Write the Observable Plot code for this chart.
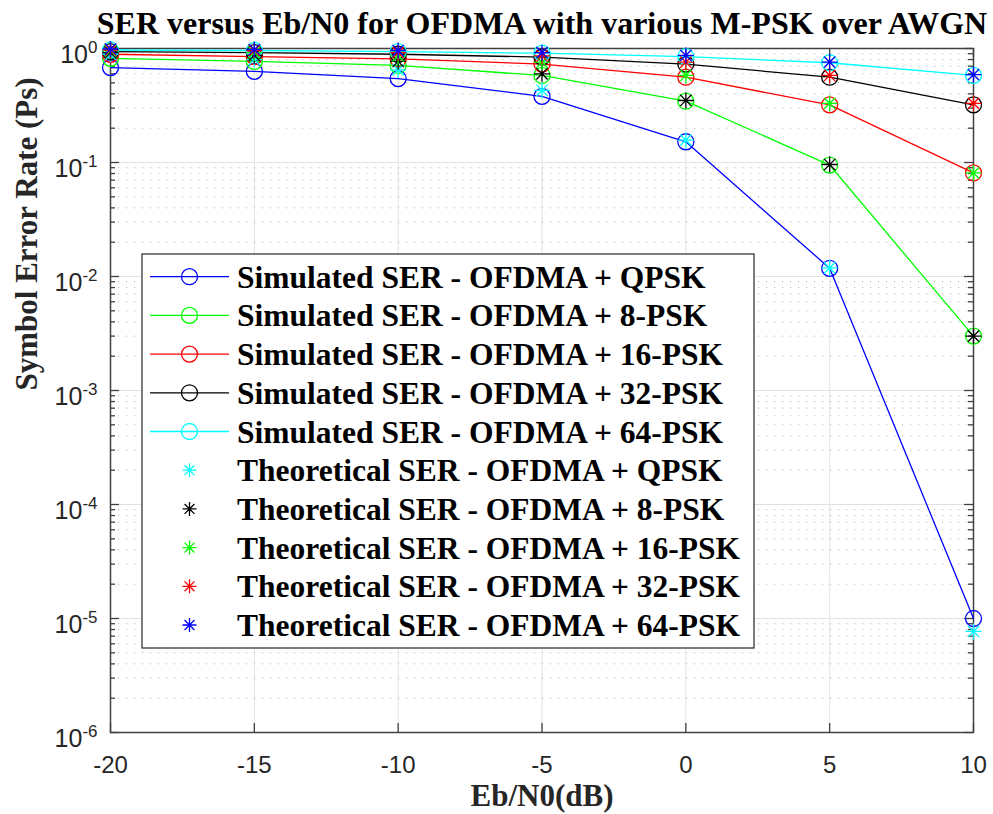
<!DOCTYPE html>
<html><head><meta charset="utf-8">
<script src="https://cdn.jsdelivr.net/npm/d3@7"></script>
<script src="https://cdn.jsdelivr.net/npm/@observablehq/plot@0.6"></script>
<style>body{margin:0;background:#fff}#chart svg{display:block}</style>
</head><body><div id="chart"></div>
<script>
// ---- data ----
const ebn0 = [-20, -15, -10, -5, 0, 5, 10];
const xTicks = [-20, -15, -10, -5, 0, 5, 10];
const yDecades = [1e-6, 1e-5, 1e-4, 1e-3, 1e-2, 1e-1, 1];
const yExponents = ["-6", "-5", "-4", "-3", "-2", "-1", "0"];
const schemes = ["QPSK", "8-PSK", "16-PSK", "32-PSK", "64-PSK"];

const simQPSK  = [0.68, 0.63, 0.545, 0.38, 0.152, 0.0118, 1.0e-5];
const simPSK8  = [0.82, 0.77, 0.71, 0.58, 0.345, 0.095, 0.0030];
const simPSK16 = [0.89, 0.85, 0.81, 0.73, 0.56, 0.32, 0.081];
const simPSK32 = [0.94, 0.92, 0.89, 0.84, 0.73, 0.56, 0.32];
const simPSK64 = [0.97, 0.96, 0.94, 0.91, 0.85, 0.75, 0.58];

const thQPSK  = [0.89, 0.80, 0.65, 0.43, 0.157, 0.0119, 7.7e-6];
const thPSK8  = [0.92, 0.87, 0.77, 0.60, 0.35, 0.096, 0.0030];
const thPSK16 = [0.96, 0.92, 0.86, 0.76, 0.58, 0.33, 0.081];
const thPSK32 = [0.97, 0.96, 0.92, 0.86, 0.76, 0.58, 0.33];
const thPSK64 = [0.99, 0.98, 0.96, 0.92, 0.87, 0.76, 0.59];

const simSeries = [simQPSK, simPSK8, simPSK16, simPSK32, simPSK64];
const thSeries = [thQPSK, thPSK8, thPSK16, thPSK32, thPSK64];
const simColors = ["#0000ff", "#00ff00", "#ff0000", "#000000", "#00ffff"];
const thColors = ["#00ffff", "#000000", "#00ff00", "#ff0000", "#0000ff"];

const titleText = "SER versus Eb/N0 for OFDMA with various M-PSK over AWGN";
const xLabel = "Eb/N0(dB)";
const yLabel = "Symbol Error Rate (Ps)";

// ---- tables ----
const simRows = [];
simSeries.forEach((s, k) => s.forEach((v, i) => simRows.push({series: "Simulated SER - OFDMA + " + schemes[k], x: ebn0[i], y: v, color: simColors[k], k})));
const thRows = [];
thSeries.forEach((s, k) => s.forEach((v, i) => thRows.push({series: "Theoretical SER - OFDMA + " + schemes[k], x: ebn0[i], y: v, color: thColors[k], k})));
const yMinor = [];
yDecades.slice(0, -1).forEach(d => { for (let m = 2; m <= 9; m++) yMinor.push(m * d); });

// MATLAB-style 8-arm asterisk
const star8 = {draw(ctx, size) {
  const r = Math.sqrt(size / Math.PI), d = r * Math.SQRT1_2;
  ctx.moveTo(-r, 0); ctx.lineTo(r, 0);
  ctx.moveTo(0, -r); ctx.lineTo(0, r);
  ctx.moveTo(-d, -d); ctx.lineTo(d, d);
  ctx.moveTo(-d, d); ctx.lineTo(d, -d);
}};

const W = 993, H = 814, mL = 110, mR = 20, mT = 48, mB = 82;
const fW = W - mL - mR, fH = H - mT - mB;
const serif = "'Liberation Serif','Times New Roman',serif";
const sans = "'Liberation Sans',Arial,Helvetica,sans-serif";
const axisCol = "#404040";

const marks = [
  Plot.ruleX(xTicks, {x: d => d, stroke: "#e2e2e2", strokeWidth: 1}),
  Plot.ruleY(yMinor, {y: d => d, stroke: "#b8b8b8", strokeWidth: 1, strokeDasharray: "1.2,6.8"}),
  Plot.ruleY(yDecades, {y: d => d, stroke: "#e2e2e2", strokeWidth: 1}),
  // inward ticks
  Plot.tickX(xTicks, {x: d => d, insetTop: fH - 9, stroke: axisCol, strokeWidth: 1.3}),
  Plot.tickX(xTicks, {x: d => d, insetBottom: fH - 9, stroke: axisCol, strokeWidth: 1.3}),
  Plot.tickY(yDecades, {y: d => d, insetRight: fW - 9, stroke: axisCol, strokeWidth: 1.3}),
  Plot.tickY(yDecades, {y: d => d, insetLeft: fW - 9, stroke: axisCol, strokeWidth: 1.3}),
  Plot.tickY(yMinor, {y: d => d, insetRight: fW - 5, stroke: axisCol, strokeWidth: 1.3}),
  Plot.tickY(yMinor, {y: d => d, insetLeft: fW - 5, stroke: axisCol, strokeWidth: 1.3}),
  Plot.frame({stroke: axisCol, strokeWidth: 1.5}),
  Plot.axisX(xTicks, {tickSize: 0, tickPadding: 23, label: null, tickFormat: d => String(d), fontSize: 24, fill: "#262626"}),
  Plot.axisY(yDecades, {tickSize: 0, tickPadding: 13, label: null, tickFormat: (d, i) => "10^" + yExponents[yDecades.indexOf(d)], fontSize: 25, fill: "#262626"}),
];
simSeries.forEach((s, k) => {
  const rows = simRows.filter(r => r.k === k);
  marks.push(Plot.line(rows, {x: "x", y: "y", stroke: "color", strokeWidth: 1.3}));
  marks.push(Plot.dot(rows, {x: "x", y: "y", stroke: "color", r: 8, fill: "none", strokeWidth: 1.3}));
});
thSeries.forEach((s, k) => {
  const rows = thRows.filter(r => r.k === k);
  marks.push(Plot.dot(rows, {x: "x", y: "y", stroke: "color", r: 8, symbol: star8, fill: "none", strokeWidth: 1.3}));
});
marks.push(
  Plot.text([titleText], {text: d => d, frameAnchor: "top", lineAnchor: "middle", dy: -25, fontSize: 32, fontWeight: "bold", fontFamily: serif, fill: "#000"}),
  Plot.text([xLabel], {text: d => d, frameAnchor: "bottom", lineAnchor: "middle", dy: 64, fontSize: 31, fontWeight: "bold", fontFamily: serif, fill: "#262626"}),
  Plot.text([yLabel], {text: d => d, frameAnchor: "left", lineAnchor: "middle", dx: -83, rotate: -90, fontSize: 31, fontWeight: "bold", fontFamily: serif, fill: "#262626"})
);

const svg = Plot.plot({
  width: W, height: H,
  marginLeft: mL, marginRight: mR, marginTop: mT, marginBottom: mB,
  style: {fontFamily: sans, fontSize: "24px", background: "#fff", overflow: "visible"},
  x: {domain: [-20, 10]},
  y: {type: "log", domain: [1e-6, 1]},
  color: {type: "identity"},
  marks
});
document.getElementById("chart").appendChild(svg);

// superscript exponents on y tick labels
d3.select(svg).selectAll('g[aria-label="y-axis tick label"] text').each(function() {
  const s = this.textContent;
  const exp = s.split("^")[1];
  this.textContent = "";
  this.setAttribute("y", "14.5");
  this.removeAttribute("dy");
  const t = d3.select(this);
  t.append("tspan").attr("font-size", 25).text("10");
  t.append("tspan").attr("dy", -10).attr("font-size", 17).text(exp);
});

// legend
const lg = d3.select(svg).append("g").attr("aria-label", "legend").attr("text-anchor", "start");
lg.append("rect").attr("x", 142).attr("y", 254).attr("width", 612).attr("height", 394)
  .attr("fill", "#fff").attr("stroke", "#262626").attr("stroke-width", 1.2);
const entries = [];
schemes.forEach((s, k) => entries.push({label: "Simulated SER - OFDMA + " + s, color: simColors[k], kind: "sim"}));
schemes.forEach((s, k) => entries.push({label: "Theoretical SER - OFDMA + " + s, color: thColors[k], kind: "th"}));
entries.forEach((e, i) => {
  const cy = 276.7 + i * 38.7;
  if (e.kind === "sim") {
    lg.append("line").attr("x1", 150).attr("x2", 229).attr("y1", cy).attr("y2", cy).attr("stroke", e.color).attr("stroke-width", 1.3);
    lg.append("circle").attr("cx", 189.5).attr("cy", cy).attr("r", 8).attr("fill", "none").attr("stroke", e.color).attr("stroke-width", 1.3);
  } else {
    const p = d3.path(); star8.draw(p, 7 * 7 * Math.PI);
    lg.append("path").attr("d", p.toString()).attr("transform", `translate(189.5,${cy})`).attr("fill", "none").attr("stroke", e.color).attr("stroke-width", 1.3);
  }
  lg.append("text").attr("x", 237).attr("y", cy).attr("dy", "0.35em").attr("text-anchor", "start")
    .attr("font-family", serif).attr("font-weight", "bold").attr("font-size", 31.5).attr("fill", "#000").text(e.label);
});
</script></body></html>
